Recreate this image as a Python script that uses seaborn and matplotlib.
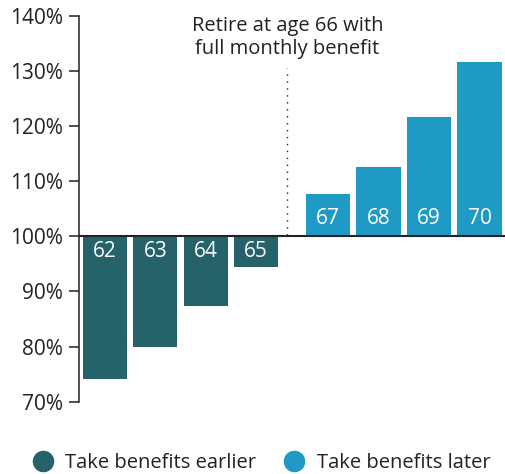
import matplotlib
matplotlib.use("Agg")
import matplotlib.pyplot as plt
from matplotlib.lines import Line2D
from matplotlib.ticker import FuncFormatter
import pandas as pd
import seaborn as sns

# Benefit as a percent of the full monthly benefit, by claiming age
ages = [62, 63, 64, 65, 67, 68, 69, 70]
benefit_pct = [74.2, 80.0, 87.4, 94.4, 107.6, 112.5, 121.6, 131.6]
groups = ["Take benefits earlier"] * 4 + ["Take benefits later"] * 4
y_ticks = [70, 80, 90, 100, 110, 120, 130, 140]

DARK = "#25626a"
LIGHT = "#1f9ac4"
TEXT = "#222222"

# slot positions: the full-benefit age (66) takes a narrower gap
slot = [i if a < 66 else i + 0.43 for i, a in enumerate(ages)]
df = pd.DataFrame({
    "pos": slot,
    "delta": [v - 100 for v in benefit_pct],
    "group": groups,
    "age": ages,
})

sns.set_theme(style="white")
plt.rcParams["font.family"] = ["Open Sans", "DejaVu Sans"]

fig = plt.figure(figsize=(5.05, 4.74), dpi=100)
ax = fig.add_axes([0.1558, 0.1525, 0.8442, 0.8145])

sns.barplot(
    data=df, x="pos", y="delta", hue="group",
    palette={"Take benefits earlier": DARK, "Take benefits later": LIGHT},
    native_scale=True, width=0.88, legend=False, ax=ax,
    saturation=1, edgecolor="none",
)

# labels inside the bars, next to the 100% baseline
for _, row in df.iterrows():
    off = -2.8 if row["delta"] < 0 else 3.2
    ax.text(row["pos"], off, str(row["age"]), ha="center", va="center",
            color="white", fontsize=15)

ax.axhline(0, color=TEXT, lw=1.5, zorder=3)

# full-benefit marker
ax.vlines(3.62, 0.3, 30.5, color=TEXT, lw=1.0, linestyles=(0, (1, 4)))
ax.text(3.62, 36.0, "Retire at age 66 with\nfull monthly benefit", ha="center",
        va="center", color=TEXT, fontsize=14.5, linespacing=1.2)

ax.set_ylim(-30, 40)
ax.set_xlim(-0.519, 7.936)
ax.set_yticks([t - 100 for t in y_ticks])
ax.yaxis.set_major_formatter(FuncFormatter(lambda v, _: f"{v + 100:.0f}%"))
ax.set_xticks([])
ax.set_xlabel("")
ax.set_ylabel("")
ax.tick_params(axis="y", left=True, length=7.5, width=1.1, color=TEXT,
               labelsize=15, labelcolor=TEXT, pad=4)
for side in ["top", "right", "bottom"]:
    ax.spines[side].set_visible(False)
ax.spines["left"].set_color(TEXT)
ax.spines["left"].set_linewidth(1.1)

handles = [
    Line2D([], [], marker="o", linestyle="", markersize=14.5, color=DARK),
    Line2D([], [], marker="o", linestyle="", markersize=14.5, color=LIGHT),
]
fig.legend(handles, ["Take benefits earlier", "Take benefits later"],
           loc="center", bbox_to_anchor=(0.518, 0.023), ncol=2, frameon=False,
           fontsize=14.5, handlelength=1.0, handletextpad=0.6, columnspacing=1.4,
           labelcolor=TEXT)

fig.savefig("out.png", dpi=100)
